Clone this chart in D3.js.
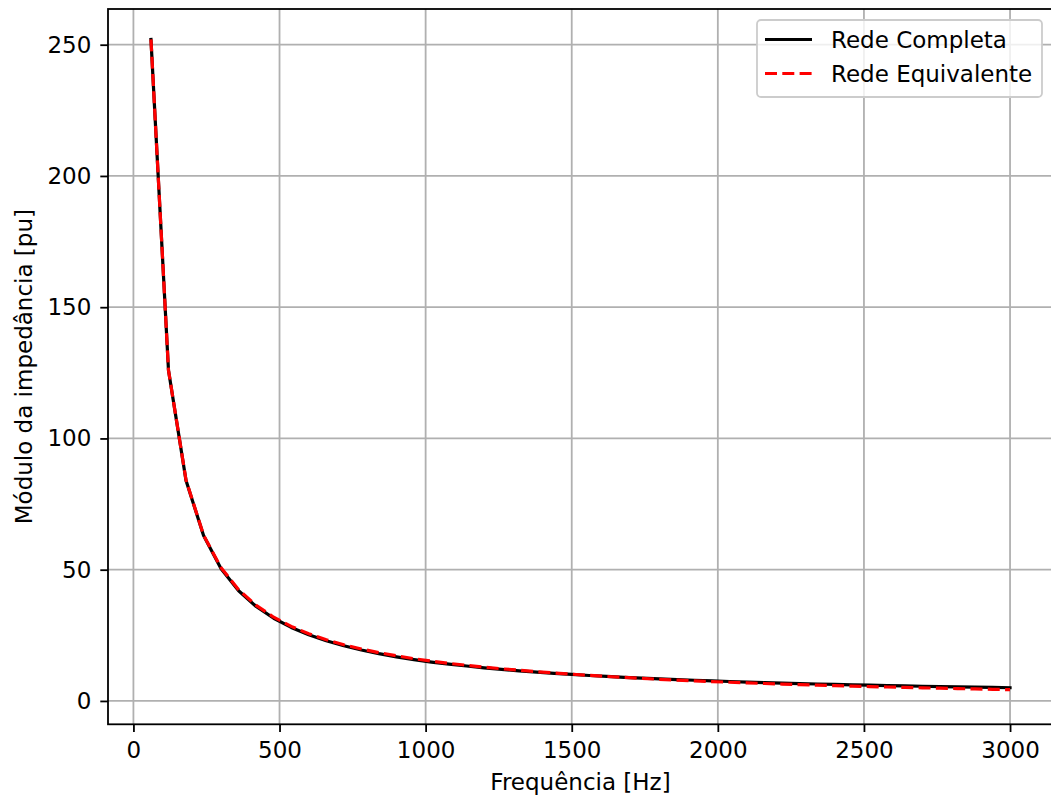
<!DOCTYPE html>
<html>
<head>
<meta charset="utf-8">
<script src="https://cdn.jsdelivr.net/npm/d3@7"></script>
<style>
  body { margin: 0; background: #fff; }
  text { font-family: "DejaVu Sans", sans-serif; fill: #000; }
</style>
</head>
<body>
<div class="chart"></div>
<script>
var svgWidth = 1051;
var svgHeight = 800;

// harmonic frequencies (Hz)
var freq = [60, 120, 180, 240, 300, 360, 420, 480, 540, 600,
  660, 720, 780, 840, 900, 960, 1020, 1080, 1140, 1200,
  1260, 1320, 1380, 1440, 1500, 1560, 1620, 1680, 1740, 1800,
  1860, 1920, 1980, 2040, 2100, 2160, 2220, 2280, 2340, 2400,
  2460, 2520, 2580, 2640, 2700, 2760, 2820, 2880, 2940, 3000];

// impedance magnitude, full network (pu)
var redeCompleta = [252.0, 126.0, 84.0, 63.0, 50.4, 42.0, 36.0, 31.5, 28.0, 25.2,
  22.9, 21.0, 19.4, 18.0, 16.8, 15.75, 14.8, 14.0, 13.3, 12.6,
  12.0, 11.45, 10.95, 10.5, 10.1, 9.7, 9.33, 9.0, 8.7, 8.4,
  8.13, 7.88, 7.64, 7.41, 7.2, 7.0, 6.81, 6.63, 6.46, 6.3,
  6.15, 6.0, 5.86, 5.73, 5.6, 5.48, 5.36, 5.25, 5.14, 5.04];

// impedance magnitude, equivalent network (pu)
var redeEquivalente = [252.0, 126.0, 84.1, 63.2, 50.7, 42.4, 36.4, 31.9, 28.4, 25.6,
  23.3, 21.4, 19.8, 18.4, 17.2, 16.1, 15.15, 14.3, 13.6, 12.9,
  12.25, 11.7, 11.15, 10.65, 10.2, 9.75, 9.33, 8.95, 8.6, 8.25,
  7.95, 7.65, 7.38, 7.12, 6.88, 6.65, 6.43, 6.22, 6.02, 5.83,
  5.65, 5.48, 5.31, 5.15, 5.0, 4.85, 4.71, 4.57, 4.44, 4.3];

var xTicks = [0, 500, 1000, 1500, 2000, 2500, 3000];
var yTicks = [0, 50, 100, 150, 200, 250];

var seriesNames = ["Rede Completa", "Rede Equivalente"];

// plot area in pixels
var plot = { left: 108, right: 1053, top: 9, bottom: 724.3 };
var fontSize = 23;

var svg = d3.select(".chart")
  .append("svg")
  .attr("width", svgWidth)
  .attr("height", svgHeight);

var x = d3.scaleLinear()
  .domain([-87, 3147])
  .range([plot.left, plot.right]);

var y = d3.scaleLinear()
  .domain([-8.9, 263.6])
  .range([plot.bottom, plot.top]);

// grid
var grid = svg.append("g");
grid.selectAll("line.gx")
  .data(xTicks)
  .enter()
  .append("line")
  .attr("x1", d => x(d)).attr("x2", d => x(d))
  .attr("y1", plot.top).attr("y2", plot.bottom)
  .attr("stroke", "#b0b0b0")
  .attr("stroke-width", 1.8);
grid.selectAll("line.gy")
  .data(yTicks)
  .enter()
  .append("line")
  .attr("x1", plot.left).attr("x2", plot.right)
  .attr("y1", d => y(d)).attr("y2", d => y(d))
  .attr("stroke", "#b0b0b0")
  .attr("stroke-width", 1.8);

// lines
var pts = function(vals) {
  return freq.map((f, i) => [f, vals[i]]);
};
var line = d3.line()
  .x(d => x(d[0]))
  .y(d => y(d[1]));

svg.append("path")
  .datum(pts(redeCompleta))
  .attr("d", line)
  .attr("fill", "none")
  .attr("stroke", "#000")
  .attr("stroke-width", 3.2)
  .attr("stroke-linejoin", "round")
  .attr("stroke-linecap", "square");

svg.append("path")
  .datum(pts(redeEquivalente))
  .attr("d", line)
  .attr("fill", "none")
  .attr("stroke", "red")
  .attr("stroke-width", 3.2)
  .attr("stroke-linejoin", "round")
  .attr("stroke-dasharray", "12,5.3");

// axes
var bottomAxis = d3.axisBottom(x)
  .tickValues(xTicks)
  .tickSizeInner(7.7)
  .tickSizeOuter(0)
  .tickPadding(10)
  .tickFormat(d3.format("d"));
var leftAxis = d3.axisLeft(y)
  .tickValues(yTicks)
  .tickSizeInner(7.7)
  .tickSizeOuter(0)
  .tickPadding(9)
  .tickFormat(d3.format("d"));

var xAxis = svg.append("g")
  .attr("transform", `translate(0, ${plot.bottom})`)
  .call(bottomAxis);
var yAxis = svg.append("g")
  .attr("transform", `translate(${plot.left}, 0)`)
  .call(leftAxis);

[xAxis, yAxis].forEach(function(a) {
  a.select(".domain").remove();
  a.selectAll(".tick line").attr("stroke", "#000").attr("stroke-width", 1.8);
  a.selectAll(".tick text")
    .attr("font-family", "DejaVu Sans")
    .attr("font-size", fontSize)
    .attr("fill", "#000");
});

// spines
svg.append("rect")
  .attr("x", plot.left)
  .attr("y", plot.top)
  .attr("width", plot.right - plot.left)
  .attr("height", plot.bottom - plot.top)
  .attr("fill", "none")
  .attr("stroke", "#000")
  .attr("stroke-width", 1.8);

// axis labels
svg.append("text")
  .attr("x", (plot.left + plot.right) / 2)
  .attr("y", 790)
  .attr("text-anchor", "middle")
  .attr("font-size", fontSize)
  .text("Frequência [Hz]");

svg.append("text")
  .attr("transform", `translate(32, ${(plot.top + plot.bottom) / 2}) rotate(-90)`)
  .attr("text-anchor", "middle")
  .attr("font-size", fontSize)
  .text("Módulo da impedância [pu]");

// legend
var legend = svg.append("g");
legend.append("rect")
  .attr("x", 757)
  .attr("y", 20)
  .attr("width", 285)
  .attr("height", 77)
  .attr("rx", 4)
  .attr("fill", "#fff")
  .attr("fill-opacity", 0.8)
  .attr("stroke", "#cccccc")
  .attr("stroke-width", 1.8);

var styles = [
  { color: "#000", dash: null },
  { color: "red", dash: "12,5.3" }
];
var rows = legend.selectAll("g.row")
  .data(seriesNames)
  .enter()
  .append("g")
  .attr("transform", (d, i) => `translate(0, ${39.5 + i * 34})`);
rows.append("line")
  .attr("x1", 765).attr("x2", 812)
  .attr("y1", 0).attr("y2", 0)
  .attr("stroke", (d, i) => styles[i].color)
  .attr("stroke-width", 3.2)
  .attr("stroke-dasharray", (d, i) => styles[i].dash);
rows.append("text")
  .attr("x", 831)
  .attr("y", 8)
  .attr("font-size", fontSize)
  .text(d => d);
</script>
</body>
</html>
